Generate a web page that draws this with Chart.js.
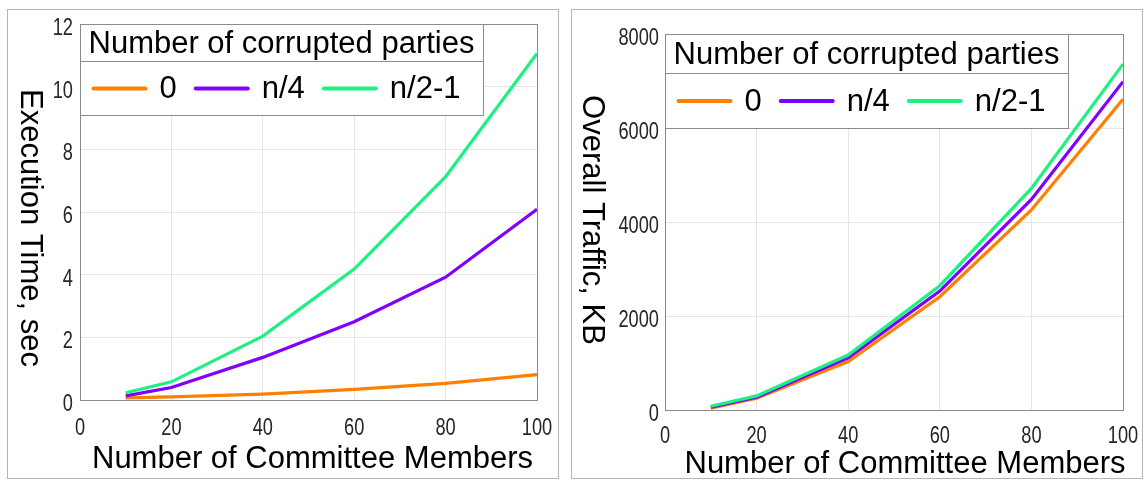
<!DOCTYPE html>
<html>
<head>
<meta charset="utf-8">
<script src="https://cdn.jsdelivr.net/npm/chart.js@4.4.1/dist/chart.umd.min.js"></script>
<style>
  html, body { margin: 0; padding: 0; background: #fff; }
  body { width: 1148px; height: 481px; position: relative; overflow: hidden; }
  .panel { position: absolute; top: 9px; border: 1px solid #b4b4b4; background: #fff; }
  #left { left: 7px; width: 550px; height: 468px; }
  #right { left: 571px; width: 570px; height: 468px; }
</style>
</head>
<body>
<div class="panel" id="left"><canvas id="timeChart"></canvas></div>
<div class="panel" id="right"><canvas id="trafficChart"></canvas></div>
<script>
// committee sizes on the x axis
const committeeSizes = [10, 20, 40, 60, 80, 100];
const seriesLabels = ["0", "n/4", "n/2-1"];
const seriesColors = ["#ff8000", "#8000ff", "#1ef082"];

// execution time, sec
const timeZero = [0.07, 0.10, 0.19, 0.34, 0.53, 0.81];
const timeQuarter = [0.13, 0.40, 1.36, 2.50, 3.92, 6.09];
const timeHalf = [0.23, 0.58, 2.04, 4.18, 7.13, 11.06];

// overall traffic, KB
const trafficZero = [40, 250, 1030, 2410, 4255, 6610];
const trafficQuarter = [60, 270, 1110, 2530, 4480, 6985];
const trafficHalf = [80, 300, 1170, 2645, 4715, 7360];

const xTicks = [0, 20, 40, 60, 80, 100];
const timeTicks = [0, 2, 4, 6, 8, 10, 12];
const trafficTicks = [0, 2000, 4000, 6000, 8000];

const textFamily = "'Liberation Sans', Arial, sans-serif";

// boxed legend with a title row, drawn over the lines
const boxLegend = {
  id: "boxLegend",
  afterDatasetsDraw(chart, args, opts) {
    const { ctx, chartArea } = chart;
    const sets = chart.data.datasets;
    ctx.save();
    ctx.font = "31px " + textFamily;
    const titleW = ctx.measureText(opts.title).width;
    let entriesW = 13 + 23 + 19 * (sets.length - 1);
    sets.forEach(ds => { entriesW += 52 + 14 + ctx.measureText(ds.label).width; });
    const w = Math.round(Math.max(titleW + 16, entriesW));
    const x0 = Math.round(chartArea.left) + 0.5;
    const y0 = Math.round(chartArea.top) + 0.5;
    const h = opts.titleH + opts.rowH;

    ctx.fillStyle = "#fff";
    ctx.fillRect(x0, y0, w, h);
    ctx.strokeStyle = "#8c8c8c";
    ctx.lineWidth = 1;
    ctx.strokeRect(x0, y0, w, h);
    ctx.beginPath();
    ctx.moveTo(x0, y0 + opts.titleH);
    ctx.lineTo(x0 + w, y0 + opts.titleH);
    ctx.stroke();

    ctx.fillStyle = "#000";
    ctx.textBaseline = "middle";
    ctx.textAlign = "left";
    ctx.fillText(opts.title, x0 + 8, y0 + opts.titleH / 2 + 1);

    const cy = y0 + opts.titleH + opts.rowH / 2;
    let x = x0 + 13;
    ctx.lineCap = "round";
    sets.forEach(ds => {
      ctx.strokeStyle = ds.borderColor;
      ctx.lineWidth = 4;
      ctx.beginPath();
      ctx.moveTo(x, cy);
      ctx.lineTo(x + 52, cy);
      ctx.stroke();
      x += 52 + 14;
      ctx.fillText(ds.label, x, cy + 1);
      x += ctx.measureText(ds.label).width + 19;
    });
    ctx.restore();
  }
};

// axis titles: x centred below, y reading top to bottom
const axisTitles = {
  id: "axisTitles",
  afterDraw(chart, args, opts) {
    const { ctx, chartArea: a } = chart;
    ctx.save();
    ctx.font = "31px " + textFamily;
    ctx.fillStyle = "#000";
    ctx.textAlign = "center";
    ctx.textBaseline = "alphabetic";
    ctx.fillText(opts.xText, (a.left + a.right) / 2 + opts.xShift, a.bottom + opts.xDrop);
    ctx.translate(opts.yX, (a.top + a.bottom) / 2 + opts.yShift);
    ctx.rotate(Math.PI / 2);
    ctx.textBaseline = "middle";
    ctx.fillText(opts.yText, 0, 0);
    ctx.restore();
  }
};

// narrow tick labels, placed through the scales
const narrowTicks = {
  id: "narrowTicks",
  afterDraw(chart, args, opts) {
    const { ctx, chartArea: a, scales } = chart;
    ctx.save();
    ctx.font = "24px " + textFamily;
    ctx.fillStyle = "#262626";
    ctx.textBaseline = "alphabetic";
    const put = (text, x, y, align) => {
      ctx.save();
      ctx.translate(x, y);
      ctx.scale(0.76, 1);
      ctx.textAlign = align;
      ctx.fillText(text, 0, 0);
      ctx.restore();
    };
    scales.x.ticks.forEach(t => {
      put(String(t.value), scales.x.getPixelForValue(t.value), a.bottom + opts.xDrop, "center");
    });
    scales.y.ticks.forEach(t => {
      put(String(t.value), a.left - opts.yGap, scales.y.getPixelForValue(t.value) + 11, "right");
    });
    ctx.restore();
  }
};

// closed box around the plot area
const plotFrame = {
  id: "plotFrame",
  beforeDatasetsDraw(chart) {
    const { ctx, chartArea: a } = chart;
    ctx.save();
    ctx.strokeStyle = "#8a8a8a";
    ctx.lineWidth = 1;
    ctx.strokeRect(Math.round(a.left) + 0.5, Math.round(a.top) + 0.5,
      Math.round(a.right - a.left), Math.round(a.bottom - a.top));
    ctx.restore();
  }
};

function makeSeries(values, i) {
  return {
    label: seriesLabels[i],
    data: committeeSizes.map((n, k) => ({ x: n, y: values[k] })),
    borderColor: seriesColors[i],
    backgroundColor: seriesColors[i],
    borderWidth: 3.2,
    pointRadius: 0,
    tension: 0,
    order: 2 - i
  };
}

function makeChart(id, series, yTicks, yMax, cfg) {
  return new Chart(document.getElementById(id), {
    type: "line",
    data: { datasets: series.map(makeSeries) },
    plugins: [plotFrame, boxLegend, narrowTicks, axisTitles],
    options: {
      responsive: true,
      maintainAspectRatio: false,
      animation: false,
      devicePixelRatio: 1,
      layout: { padding: { top: cfg.padTop, right: cfg.padRight, left: 0, bottom: 0 } },
      plugins: {
        legend: { display: false },
        tooltip: { enabled: false },
        boxLegend: { title: "Number of corrupted parties", titleH: cfg.titleH, rowH: cfg.rowH },
        narrowTicks: { xDrop: cfg.tickDrop, yGap: cfg.yTickGap },
        axisTitles: {
          xText: "Number of Committee Members", xShift: cfg.xTitleShift, xDrop: cfg.xTitleDrop,
          yText: cfg.yTitle, yX: cfg.yTitleX, yShift: cfg.yTitleShift
        }
      },
      scales: {
        x: {
          type: "linear",
          min: 0,
          max: 100,
          afterBuildTicks: s => { s.ticks = xTicks.map(v => ({ value: v })); },
          afterFit: s => { s.height = cfg.xHeight; },
          grid: { color: "#e6e6e6", drawTicks: false },
          border: { color: "#8a8a8a" },
          ticks: { display: false }
        },
        y: {
          type: "linear",
          min: 0,
          max: yMax,
          afterBuildTicks: s => { s.ticks = yTicks.map(v => ({ value: v })); },
          afterFit: s => { s.width = cfg.yWidth; },
          grid: { color: "#e6e6e6", drawTicks: false },
          border: { color: "#8a8a8a" },
          ticks: { display: false }
        }
      }
    }
  });
}

makeChart("timeChart", [timeZero, timeQuarter, timeHalf], timeTicks, 12, {
  padTop: 14, padRight: 21, xHeight: 78, yWidth: 72, yTickGap: 7,
  titleH: 37, rowH: 54, tickDrop: 35, xTitleShift: 4, xTitleDrop: 68,
  yTitle: "Execution Time, sec", yTitleX: 22, yTitleShift: 16
});

makeChart("trafficChart", [trafficZero, trafficQuarter, trafficHalf], trafficTicks, 8000, {
  padTop: 24, padRight: 19, xHeight: 68, yWidth: 93, yTickGap: 6,
  titleH: 39, rowH: 55, tickDrop: 33, xTitleShift: 11, xTitleDrop: 63,
  yTitle: "Overall Traffic, KB", yTitleX: 20, yTitleShift: -2
});
</script>
</body>
</html>
